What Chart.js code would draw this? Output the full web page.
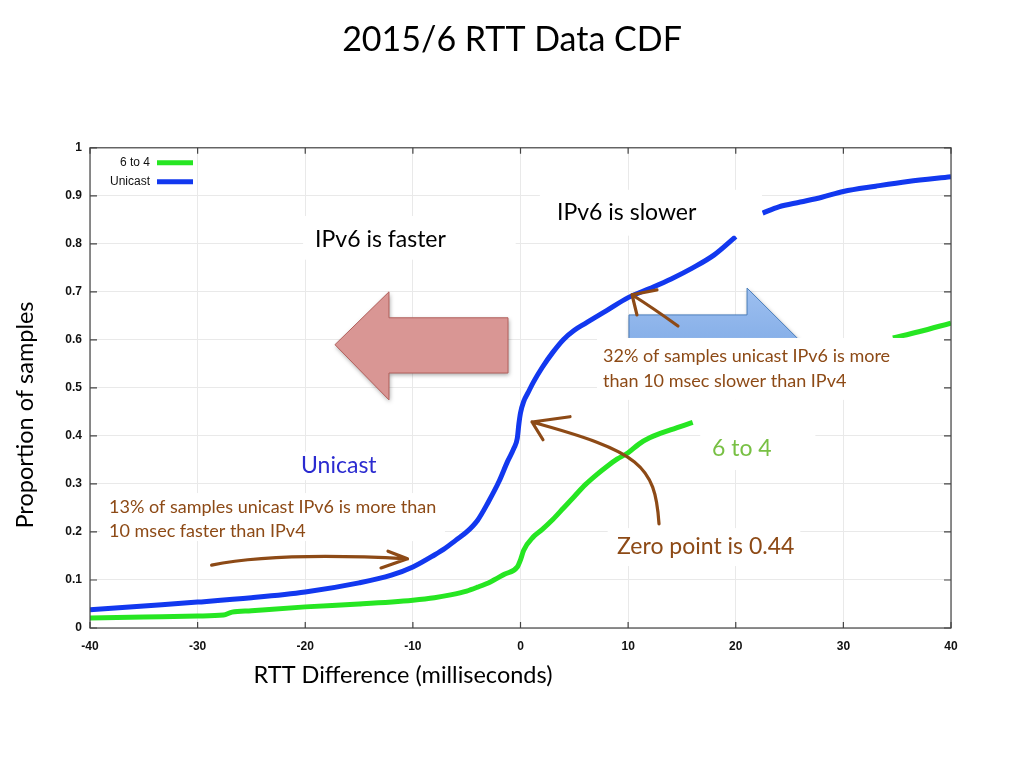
<!DOCTYPE html>
<html>
<head>
<meta charset="utf-8">
<title>2015/6 RTT Data CDF</title>
<script src="https://cdn.jsdelivr.net/npm/chart.js@4.4.1/dist/chart.umd.min.js"></script>
<style>
  html, body { margin: 0; padding: 0; background: #fff; }
  #wrap { width: 1024px; height: 768px; }
</style>
</head>
<body>
<div id="wrap"><canvas id="cdf" width="1024" height="768"></canvas></div>
<script>
// RTT difference (ms) and CDF values.
// null = the part of the curve hidden behind a text box on the slide.
var unicastRtt = [-40, -35, -30, -25, -20, -15, -12, -10, -8, -7, -6, -5, -4, -3, -2, -1.2, -0.6, -0.3, -0.15, 0, 0.3, 0.7, 1.2, 2, 3, 4, 5, 6, 8, 10, 12, 14, 16, 18, 20, 21.3, 22.5, 24, 26, 28, 30, 33, 36, 40];
var unicastCdf = [0.038, 0.046, 0.054, 0.063, 0.075, 0.094, 0.110, 0.127, 0.152, 0.166, 0.183, 0.200, 0.224, 0.262, 0.305, 0.347, 0.375, 0.395, 0.425, 0.448, 0.472, 0.49, 0.512, 0.542, 0.574, 0.601, 0.62, 0.634, 0.661, 0.688, 0.707, 0.727, 0.75, 0.777, 0.815, null, 0.864, 0.877, 0.887, 0.897, 0.909, 0.92, 0.93, 0.94];

var sixToFourRtt = [-40, -35, -30, -27.6, -26.8, -25, -20, -15, -10, -8, -6.5, -5, -4, -2.8, -1.5, -0.3, 0, 0.3, 1.2, 2, 3, 4, 5, 6, 7, 8, 9, 10, 11, 12, 14, 16, 25, 34.6, 37, 40];
var sixToFourCdf = [0.021, 0.023, 0.025, 0.027, 0.033, 0.036, 0.044, 0.05, 0.058, 0.063, 0.069, 0.077, 0.085, 0.096, 0.112, 0.127, 0.142, 0.162, 0.19, 0.205, 0.226, 0.25, 0.274, 0.298, 0.318, 0.336, 0.352, 0.365, 0.383, 0.396, 0.413, 0.428, null, 0.604, 0.617, 0.635];

var seriesNames = ['6 to 4', 'Unicast'];
var xTicks = [-40, -30, -20, -10, 0, 10, 20, 30, 40];
var yTicks = [0, 0.1, 0.2, 0.3, 0.4, 0.5, 0.6, 0.7, 0.8, 0.9, 1];

var BLUE = '#1238ef';
var GREEN = '#26e622';
var BROWN = '#8d4a16';
var SLIDE_FONT = 'Lato, "Open Sans", sans-serif';
var PLOT_FONT = '"Liberation Sans", Arial, sans-serif';

// slide annotations, all in data units (ms, proportion)
var coverBoxes = [
  // [xFrom, xTo, yFrom, yTo]  white text boxes laid over the plot
  [-20.2, -0.45, 0.767, 0.858],
  [1.8, 22.44, 0.817, 0.9125],
  [7.11, 39.4, 0.475, 0.604],
  [16.7, 27.4, 0.329, 0.475],
  [8.1, 26.0, 0.129, 0.208],
  [-39.07, -7.02, 0.181, 0.281],
  [-20.86, -12.68, 0.308, 0.367]
];

var fasterArrow = { tip: [-17.24, 0.59], head: -12.22, tail: -1.16, headTop: 0.70, headBottom: 0.475, shaftTop: 0.646, shaftBottom: 0.531 };
var slowerArrow = { tip: [26.06, 0.596], head: 21.05, tail: 10.08, headTop: 0.708, headBottom: 0.483, shaftTop: 0.652, shaftBottom: 0.5375 };

var notes = [
  { text: 'IPv6 is faster', x: -19.09, y: 0.808, color: '#000', size: 23 },
  { text: 'IPv6 is slower', x: 3.39, y: 0.865, color: '#000', size: 23 },
  { text: 'Unicast', x: -20.39, y: 0.3375, color: '#2b2bd0', size: 23 },
  { text: '13% of samples unicast IPv6 is more than', x: -38.23, y: 0.252, color: BROWN, size: 18 },
  { text: '10 msec faster than IPv4', x: -38.23, y: 0.202, color: BROWN, size: 18 },
  { text: '32% of samples unicast IPv6 is more', x: 7.67, y: 0.565, color: BROWN, size: 18 },
  { text: 'than 10 msec slower than IPv4', x: 7.67, y: 0.515, color: BROWN, size: 18 },
  { text: '6 to 4', x: 17.79, y: 0.373, color: '#78c044', size: 23 },
  { text: 'Zero point is 0.44', x: 8.97, y: 0.169, color: BROWN, size: 23 }
];

// hand drawn pointers: path points + the two barbs at the tip
var pointers = [
  { kind: 'quad', pts: [[-28.7, 0.131], [-22.6, 0.1585], [-10.5, 0.144]], barbs: [[-12.31, 0.160], [-12.96, 0.125]] },
  { kind: 'cubic', pts: [[12.87, 0.217], [12.5, 0.34], [11.1, 0.367], [1.07, 0.429]], barbs: [[4.6, 0.44], [2.09, 0.392]] },
  { kind: 'quad', pts: [[14.63, 0.629], [12.2, 0.668], [10.36, 0.694]], barbs: [[12.68, 0.704], [10.82, 0.652]] }
];

function toPoints(xs, ys) {
  return xs.map(function (x, i) { return { x: x, y: ys[i] }; });
}

function blockArrow(ctx, a, fill, stroke, px, py) {
  ctx.save();
  ctx.shadowColor = 'rgba(0,0,0,0.35)';
  ctx.shadowBlur = 4;
  ctx.shadowOffsetX = 1;
  ctx.shadowOffsetY = 2;
  ctx.beginPath();
  ctx.moveTo(px(a.tip[0]), py(a.tip[1]));
  ctx.lineTo(px(a.head), py(a.headTop));
  ctx.lineTo(px(a.head), py(a.shaftTop));
  ctx.lineTo(px(a.tail), py(a.shaftTop));
  ctx.lineTo(px(a.tail), py(a.shaftBottom));
  ctx.lineTo(px(a.head), py(a.shaftBottom));
  ctx.lineTo(px(a.head), py(a.headBottom));
  ctx.closePath();
  ctx.fillStyle = fill;
  ctx.fill();
  ctx.shadowColor = 'transparent';
  ctx.lineWidth = 1;
  ctx.strokeStyle = stroke;
  ctx.stroke();
  ctx.restore();
}

var slideNotes = {
  id: 'slideNotes',
  afterDraw: function (chart) {
    var ctx = chart.ctx;
    var xs = chart.scales.x, ys = chart.scales.y;
    var area = chart.chartArea;
    var px = function (v) { return xs.getPixelForValue(v); };
    var py = function (v) { return ys.getPixelForValue(v); };

    ctx.save();

    // big block arrows
    blockArrow(ctx, fasterArrow, '#d99694', '#b2605c', px, py);
    var g = ctx.createLinearGradient(0, py(slowerArrow.headTop), 0, py(slowerArrow.headBottom));
    g.addColorStop(0, '#9dbff0');
    g.addColorStop(1, '#6f9fe0');
    blockArrow(ctx, slowerArrow, g, '#4a7ebb', px, py);

    // white text boxes
    ctx.fillStyle = '#fff';
    coverBoxes.forEach(function (b) {
      var x0 = px(b[0]), x1 = px(b[1]), y0 = py(b[3]), y1 = py(b[2]);
      ctx.fillRect(x0, y0, x1 - x0, y1 - y0);
    });

    // frame and inner tick marks (gnuplot style)
    ctx.strokeStyle = '#444';
    ctx.lineWidth = 1.2;
    ctx.strokeRect(area.left, area.top, area.right - area.left, area.bottom - area.top);
    ctx.beginPath();
    xTicks.forEach(function (t) {
      var x = px(t);
      ctx.moveTo(x, area.bottom); ctx.lineTo(x, area.bottom - 6);
      ctx.moveTo(x, area.top); ctx.lineTo(x, area.top + 6);
    });
    yTicks.forEach(function (t) {
      var y = py(t);
      ctx.moveTo(area.left, y); ctx.lineTo(area.left + 7, y);
      ctx.moveTo(area.right, y); ctx.lineTo(area.right - 7, y);
    });
    ctx.stroke();

    // slide texts
    ctx.textBaseline = 'middle';
    ctx.textAlign = 'left';
    notes.forEach(function (n) {
      ctx.font = n.size + 'px ' + SLIDE_FONT;
      ctx.fillStyle = n.color;
      ctx.fillText(n.text, px(n.x), py(n.y));
    });

    // brown pointers
    ctx.strokeStyle = BROWN;
    ctx.lineWidth = 3.2;
    ctx.lineCap = 'round';
    ctx.lineJoin = 'round';
    pointers.forEach(function (p) {
      var q = p.pts.map(function (pt) { return [px(pt[0]), py(pt[1])]; });
      var tip = q[q.length - 1];
      ctx.beginPath();
      ctx.moveTo(q[0][0], q[0][1]);
      if (p.kind === 'quad') ctx.quadraticCurveTo(q[1][0], q[1][1], q[2][0], q[2][1]);
      else ctx.bezierCurveTo(q[1][0], q[1][1], q[2][0], q[2][1], q[3][0], q[3][1]);
      p.barbs.forEach(function (b) {
        ctx.moveTo(px(b[0]), py(b[1]));
        ctx.lineTo(tip[0], tip[1]);
      });
      ctx.stroke();
    });

    // legend, inside top-left like gnuplot
    ctx.font = '12px ' + PLOT_FONT;
    ctx.textAlign = 'right';
    ctx.fillStyle = '#111';
    ctx.lineCap = 'butt';
    chart.data.datasets.forEach(function (ds, i) {
      var y = area.top + 15 + i * 19;
      ctx.fillText(ds.label, area.left + 60, y);
      ctx.strokeStyle = ds.borderColor;
      ctx.lineWidth = 5;
      ctx.beginPath();
      ctx.moveTo(area.left + 67, y);
      ctx.lineTo(area.left + 103, y);
      ctx.stroke();
    });

    // axis titles
    ctx.fillStyle = '#000';
    ctx.textAlign = 'center';
    ctx.font = '23.5px ' + SLIDE_FONT;
    ctx.fillText('RTT Difference (milliseconds)', 403, 675);
    ctx.translate(25, 415);
    ctx.rotate(-Math.PI / 2);
    ctx.fillText('Proportion of samples', 0, 0);

    ctx.restore();
  }
};

var chart = new Chart(document.getElementById('cdf'), {
  type: 'line',
  data: {
    datasets: [
      {
        label: seriesNames[0],
        data: toPoints(sixToFourRtt, sixToFourCdf),
        borderColor: GREEN,
        borderWidth: 5,
        pointRadius: 0,
        cubicInterpolationMode: 'monotone',
        spanGaps: false
      },
      {
        label: seriesNames[1],
        data: toPoints(unicastRtt, unicastCdf),
        borderColor: BLUE,
        borderWidth: 5,
        pointRadius: 0,
        cubicInterpolationMode: 'monotone',
        spanGaps: false
      }
    ]
  },
  options: {
    responsive: false,
    animation: false,
    devicePixelRatio: 1,
    layout: { padding: 0 },
    plugins: {
      legend: { display: false },
      tooltip: { enabled: false },
      title: {
        display: true,
        text: '2015/6 RTT Data CDF',
        color: '#000',
        font: { family: SLIDE_FONT, size: 34, weight: 'normal' },
        padding: { top: 20, bottom: 87 }
      }
    },
    scales: {
      x: {
        type: 'linear',
        min: -40,
        max: 40,
        afterBuildTicks: function (s) { s.ticks = xTicks.map(function (v) { return { value: v }; }); },
        ticks: { padding: 11, color: '#111', font: { family: PLOT_FONT, size: 12, weight: 'bold' } },
        grid: { color: '#e9e9e9', drawTicks: false },
        border: { display: false },
        afterFit: function (s) { s.height = 140; }
      },
      y: {
        type: 'linear',
        min: 0,
        max: 1,
        afterBuildTicks: function (s) { s.ticks = yTicks.map(function (v) { return { value: v }; }); },
        ticks: {
          padding: 8,
          color: '#111',
          font: { family: PLOT_FONT, size: 12, weight: 'bold' },
          callback: function (v) { return String(Math.round(v * 10) / 10); }
        },
        grid: { color: '#e9e9e9', drawTicks: false },
        border: { display: false },
        afterFit: function (s) { s.width = 90; }
      },
      // empty right margin axis so the plot ends where the slide's plot ends
      margin: {
        type: 'linear',
        position: 'right',
        display: true,
        ticks: { display: false },
        grid: { display: false },
        border: { display: false },
        afterFit: function (s) { s.width = 73; }
      }
    }
  },
  plugins: [slideNotes]
});
</script>
</body>
</html>
